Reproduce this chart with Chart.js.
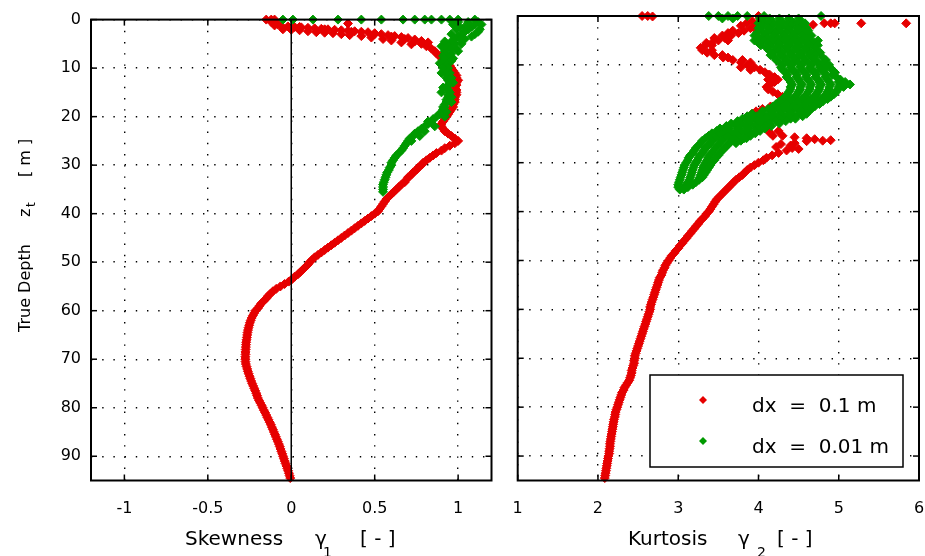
<!DOCTYPE html>
<html>
<head>
<meta charset="utf-8">
<title>Skewness and kurtosis versus true depth</title>
<script src="https://cdn.jsdelivr.net/npm/chart.js@4.4.1/dist/chart.umd.min.js"></script>
<style>
  html, body { margin: 0; padding: 0; background: #ffffff; }
  #figure { position: relative; width: 925px; height: 556px; overflow: hidden; background: #ffffff; }
  #skewChart { position: absolute; left: 0; top: 0; }
  #kurtChart { position: absolute; left: 500px; top: 0; }
</style>
</head>
<body>
<div id="figure">
  <canvas id="skewChart" width="500" height="556"></canvas>
  <canvas id="kurtChart" width="425" height="556"></canvas>
</div>
<script>
// ---------------- data ----------------
const seriesLabels = ['dx  =  0.1 m', 'dx  =  0.01 m'];
const seriesColors = ['#e60000', '#009a00'];

const depthTicks = [0, 10, 20, 30, 40, 50, 60, 70, 80, 90];
const skewTicks = [-1, -0.5, 0, 0.5, 1];
const kurtTicks = [1, 2, 3, 4, 5, 6];

// sampling depths (m) of the 0.5 m profiles
const redDepths = Array.from({ length: 190 }, (_, i) => i * 0.5);    // 0 .. 94.5
const greenDepths = Array.from({ length: 72 }, (_, i) => i * 0.5);   // 0 .. 35.5

// skewness, dx = 0.1 m
const skewRed = [
  -0.15, -0.12, -0.08, 0.05, 0.2, 0.36, 0.5, 0.6, 0.68, 0.74, 0.78, 0.81, 0.84, 0.86, 0.87, 0.89, 0.9, 0.91, 0.93, 0.95,
  0.96, 0.97, 0.98, 0.99, 0.99, 1.0, 0.99, 0.99, 0.98, 0.99, 0.99, 0.99, 0.98, 0.98, 0.98, 0.97, 0.97, 0.96, 0.95, 0.94,
  0.93, 0.92, 0.91, 0.9, 0.9, 0.91, 0.92, 0.94, 0.96, 0.98, 1.0, 0.98, 0.95, 0.92, 0.9, 0.87, 0.85, 0.83, 0.81, 0.79,
  0.78, 0.76, 0.75, 0.73, 0.72, 0.7, 0.69, 0.68, 0.66, 0.645, 0.63, 0.615, 0.6, 0.585, 0.57, 0.56, 0.55, 0.54, 0.53, 0.52,
  0.5, 0.48, 0.46, 0.44, 0.42, 0.4, 0.38, 0.36, 0.34, 0.32, 0.3, 0.28, 0.26, 0.24, 0.22, 0.2, 0.18, 0.16, 0.14, 0.125,
  0.11, 0.1, 0.085, 0.07, 0.055, 0.04, 0.02, 0.005, -0.015, -0.04, -0.065, -0.09, -0.11, -0.125, -0.14, -0.15, -0.165, -0.18, -0.19, -0.2,
  -0.215, -0.222, -0.23, -0.237, -0.243, -0.248, -0.252, -0.256, -0.259, -0.262, -0.264, -0.266, -0.268, -0.27, -0.271, -0.272, -0.273, -0.274, -0.274, -0.275,
  -0.275, -0.274, -0.272, -0.268, -0.264, -0.26, -0.255, -0.25, -0.245, -0.24, -0.234, -0.228, -0.222, -0.216, -0.21, -0.205, -0.2, -0.193, -0.186, -0.178,
  -0.171, -0.164, -0.157, -0.15, -0.143, -0.136, -0.129, -0.122, -0.116, -0.11, -0.104, -0.098, -0.092, -0.086, -0.08, -0.074, -0.069, -0.064, -0.059, -0.054,
  -0.049, -0.044, -0.039, -0.034, -0.029, -0.024, -0.019, -0.014, -0.01, -0.006
];
// extra near-surface skewness samples, dx = 0.1 m
const skewRedTopDepths = [
  0, 0, 0.8, 1.2, 1.3, 1.4, 1.5, 1.6, 1.7, 1.8, 1.9, 2.0, 2.1, 2.2, 2.3, 2.4, 2.5, 2.6, 2.8, 3.0, 3.2, 3.4, 3.6, 3.8, 4.1, 4.4, 4.7,
  2.0, 2.1, 2.2, 2.4, 2.6, 2.7, 2.8, 3.0, 3.2, 3.4, 3.7, 4.0, 4.3, 4.7, 5.1
];
const skewRedTop = [
  -0.12, -0.1, 0.34, -0.1, -0.06, -0.02, 0.02, 0.06, 0.1, 0.14, 0.18, 0.22, 0.26, 0.3, 0.34, 0.38, 0.42, 0.46, 0.5, 0.54, 0.58, 0.62, 0.66, 0.7, 0.74, 0.78, 0.82,
  -0.05, 0.0, 0.05, 0.1, 0.15, 0.2, 0.25, 0.3, 0.35, 0.42, 0.48, 0.55, 0.6, 0.66, 0.72
];

// skewness, dx = 0.01 m
const skewGreen = [
  1.1, 1.12, 1.1, 1.08, 1.06, 1.04, 1.02, 1.0, 0.98, 0.96, 0.95, 0.94, 0.93, 0.92, 0.92, 0.91, 0.92, 0.92, 0.93, 0.93,
  0.94, 0.93, 0.95, 0.94, 0.93, 0.94, 0.95, 0.94, 0.93, 0.94, 0.95, 0.94, 0.94, 0.93, 0.93, 0.92, 0.92, 0.91, 0.9, 0.89,
  0.87, 0.85, 0.84, 0.82, 0.8, 0.78, 0.76, 0.74, 0.73, 0.71, 0.7, 0.69, 0.68, 0.67, 0.66, 0.645, 0.63, 0.62, 0.61, 0.6,
  0.6, 0.59, 0.585, 0.575, 0.57, 0.565, 0.56, 0.555, 0.55, 0.55, 0.55, 0.55
];
const skewGreenSurface = [-0.05, 0.01, 0.13, 0.28, 0.42, 0.54, 0.67, 0.74, 0.8, 0.84, 0.9, 0.95, 1.0];
const skewGreenSpreadDepths = [
  0.5, 1, 1.5, 2, 2.5, 3, 3.5, 4, 4.5, 5, 5.5, 6, 7, 8, 9, 11, 13, 15, 17, 19, 21, 23, 25,
  0.5, 1, 1.5, 2, 3, 4, 5, 6, 6.5, 7.5, 8.5, 10, 12, 14, 16, 18, 20, 22, 24
];
const skewGreenSpread = [
  1.0, 0.97, 1.04, 0.99, 1.12, 0.96, 1.08, 1.04, 0.92, 1.02, 0.9, 0.99, 0.96, 0.97, 0.89, 0.9, 0.97, 0.9, 0.96, 0.93, 0.82, 0.8, 0.72,
  1.06, 1.14, 1.01, 1.13, 1.1, 1.01, 0.98, 0.96, 1.0, 0.95, 0.96, 0.91, 0.96, 0.91, 0.96, 0.91, 0.92, 0.86, 0.77
];

// kurtosis, dx = 0.1 m
const kurtRed = [
  4.0, 4.05, 4.05, 4.02, 3.96, 3.9, 3.82, 3.75, 3.66, 3.58, 3.5, 3.42, 3.34, 3.28, 3.3, 3.36, 3.45, 3.56, 3.68, 3.78,
  3.86, 3.95, 4.02, 4.08, 4.14, 4.2, 4.24, 4.2, 4.15, 4.1, 4.12, 4.18, 4.24, 4.3, 4.35, 4.3, 4.25, 4.15, 4.05, 3.97,
  3.92, 3.98, 4.05, 4.1, 4.12, 4.1, 4.1, 4.12, 4.15, 4.3, 4.6, 4.8, 4.45, 4.4, 4.42, 4.35, 4.25, 4.17, 4.1, 4.06,
  4.0, 3.95, 3.9, 3.86, 3.83, 3.8, 3.76, 3.72, 3.69, 3.66, 3.63, 3.6, 3.57, 3.54, 3.51, 3.48, 3.46, 3.44, 3.42, 3.4,
  3.38, 3.35, 3.33, 3.3, 3.27, 3.25, 3.22, 3.2, 3.17, 3.15, 3.12, 3.1, 3.07, 3.05, 3.02, 3.0, 2.97, 2.95, 2.92, 2.9,
  2.88, 2.86, 2.84, 2.83, 2.81, 2.8, 2.79, 2.77, 2.76, 2.75, 2.74, 2.73, 2.72, 2.71, 2.7, 2.69, 2.68, 2.67, 2.66, 2.65,
  2.65, 2.64, 2.63, 2.62, 2.61, 2.6, 2.59, 2.58, 2.57, 2.56, 2.55, 2.54, 2.53, 2.52, 2.51, 2.5, 2.49, 2.48, 2.47, 2.46,
  2.46, 2.45, 2.45, 2.44, 2.43, 2.42, 2.42, 2.41, 2.4, 2.39, 2.37, 2.35, 2.33, 2.32, 2.3, 2.29, 2.28, 2.27, 2.26, 2.25,
  2.24, 2.23, 2.22, 2.215, 2.21, 2.2, 2.195, 2.19, 2.185, 2.18, 2.175, 2.17, 2.165, 2.16, 2.155, 2.15, 2.15, 2.145, 2.14, 2.14,
  2.13, 2.125, 2.12, 2.115, 2.11, 2.105, 2.1, 2.095, 2.09, 2.085
];
const kurtRedExtraDepths = [0, 0, 0.1, 1.5, 1.5, 1.5, 1.5, 1.5, 1.8, 1, 1.5, 2, 2.5, 3, 3.5, 4, 4.5, 5, 5.5, 6, 7, 8, 8.5, 9, 9.5, 10.5, 11, 12, 13, 23.5, 24.5, 24.8, 25.2, 25.4, 25.6, 26.2, 26.8, 27.2];
const kurtRedExtra = [2.55, 2.62, 2.68, 4.82, 4.9, 4.95, 5.28, 5.84, 4.68, 3.92, 3.85, 3.78, 3.95, 3.68, 3.62, 3.55, 3.45, 3.62, 3.35, 3.42, 3.42, 3.55, 3.62, 3.8, 3.9, 3.78, 3.9, 4.12, 4.12, 4.25, 4.18, 4.45, 4.7, 4.9, 4.6, 4.28, 4.22, 4.5];

// kurtosis, dx = 0.01 m: samples found at each 0.5 m depth
const kurtGreen = [
  [3.38, 3.5, 3.62, 3.74, 3.86, 4.07, 4.78],
  [3.55, 3.68, 4.02, 4.14, 4.26, 4.38, 4.5],
  [4.05, 4.17, 4.29, 4.41, 4.53],
  [4.0, 4.12, 4.24, 4.36, 4.48, 4.58],
  [4.05, 4.17, 4.29, 4.41, 4.53],
  [4.0, 4.12, 4.24, 4.36, 4.48, 4.6],
  [4.04, 4.16, 4.28, 4.4, 4.52, 4.62],
  [3.98, 4.1, 4.22, 4.34, 4.46, 4.58],
  [3.95, 4.07, 4.19, 4.31, 4.43, 4.55, 4.66],
  [4.0, 4.12, 4.24, 4.36, 4.48, 4.6],
  [3.95, 4.06, 4.18, 4.3, 4.42, 4.54, 4.66, 4.74],
  [4.0, 4.12, 4.24, 4.36, 4.48, 4.6, 4.7],
  [4.03, 4.15, 4.27, 4.39, 4.51, 4.63, 4.74],
  [4.1, 4.22, 4.34, 4.46, 4.58, 4.7],
  [4.13, 4.25, 4.37, 4.49, 4.61, 4.73],
  [4.18, 4.3, 4.42, 4.54, 4.66, 4.77],
  [4.15, 4.27, 4.39, 4.51, 4.63, 4.72],
  [4.2, 4.32, 4.44, 4.56, 4.68, 4.8],
  [4.22, 4.34, 4.46, 4.58, 4.7, 4.84],
  [4.26, 4.38, 4.5, 4.62, 4.74, 4.82],
  [4.3, 4.42, 4.54, 4.66, 4.78, 4.88],
  [4.28, 4.4, 4.52, 4.64, 4.76, 4.85],
  [4.3, 4.42, 4.54, 4.66, 4.78, 4.92],
  [4.34, 4.46, 4.58, 4.7, 4.82, 4.95],
  [4.36, 4.48, 4.6, 4.72, 4.84, 4.92],
  [4.35, 4.47, 4.59, 4.71, 4.83, 4.97],
  [4.38, 4.5, 4.62, 4.74, 4.86, 5.02],
  [4.4, 4.52, 4.64, 4.76, 4.88, 5.0, 5.08],
  [4.42, 4.54, 4.66, 4.78, 4.9, 5.02, 5.14],
  [4.4, 4.52, 4.64, 4.76, 4.88, 5.0, 5.06],
  [4.4, 4.52, 4.64, 4.76, 4.88, 4.99],
  [4.38, 4.5, 4.62, 4.74, 4.86, 4.97],
  [4.36, 4.48, 4.6, 4.72, 4.84, 4.94],
  [4.34, 4.46, 4.58, 4.7, 4.82, 4.9],
  [4.3, 4.42, 4.54, 4.66, 4.78, 4.86],
  [4.26, 4.38, 4.5, 4.62, 4.74, 4.8],
  [4.22, 4.34, 4.46, 4.58, 4.7, 4.76],
  [4.18, 4.3, 4.42, 4.54, 4.66, 4.7],
  [4.12, 4.24, 4.36, 4.48, 4.6, 4.66],
  [4.05, 4.17, 4.29, 4.41, 4.53, 4.62],
  [3.92, 4.04, 4.16, 4.28, 4.4, 4.52, 4.6],
  [3.86, 3.98, 4.1, 4.22, 4.34, 4.46, 4.55],
  [3.8, 3.92, 4.04, 4.16, 4.28, 4.4, 4.46],
  [3.74, 3.86, 3.98, 4.1, 4.22, 4.34],
  [3.66, 3.78, 3.9, 4.02, 4.14, 4.26],
  [3.6, 3.72, 3.84, 3.96, 4.08, 4.16],
  [3.52, 3.64, 3.76, 3.88, 4.0, 4.08],
  [3.48, 3.6, 3.72, 3.84, 3.96, 4.02],
  [3.42, 3.54, 3.66, 3.78, 3.9, 3.96],
  [3.38, 3.5, 3.62, 3.74, 3.86, 3.9],
  [3.34, 3.46, 3.58, 3.7, 3.82, 3.85],
  [3.3, 3.42, 3.54, 3.66, 3.78],
  [3.28, 3.4, 3.52, 3.64, 3.72],
  [3.25, 3.37, 3.49, 3.61],
  [3.22, 3.34, 3.46, 3.58],
  [3.2, 3.32, 3.44, 3.55],
  [3.18, 3.3, 3.42, 3.52],
  [3.15, 3.27, 3.39, 3.5],
  [3.13, 3.25, 3.37, 3.47],
  [3.12, 3.24, 3.36, 3.45],
  [3.1, 3.22, 3.34, 3.42],
  [3.08, 3.2, 3.32, 3.4],
  [3.07, 3.19, 3.31, 3.38],
  [3.06, 3.18, 3.3, 3.36],
  [3.05, 3.17, 3.29, 3.34],
  [3.04, 3.16, 3.28, 3.32],
  [3.03, 3.15, 3.27, 3.3],
  [3.02, 3.14, 3.26],
  [3.01, 3.12, 3.22],
  [3.0, 3.1, 3.18],
  [3.0, 3.08, 3.12],
  [3.02, 3.07]
];

// ---------------- helpers ----------------
const FONT = "'DejaVu Sans', 'Liberation Sans', sans-serif";
Chart.defaults.font.family = FONT;
Chart.defaults.font.size = 16;
Chart.defaults.color = '#000';

function toPoints(depths, values) {
  return values.map((v, i) => ({ x: v, y: depths[i] }));
}
function rowsToPoints(depths, rows) {
  return rows.flatMap((row, i) => row.map(v => ({ x: v, y: depths[i] })));
}
function markerSet(label, color, data, order) {
  return {
    label, data, order,
    showLine: false,
    clip: false,
    pointStyle: 'rectRot',
    pointRadius: 4.5,
    pointHoverRadius: 4.5,
    pointBorderWidth: 1,
    pointBackgroundColor: color,
    pointBorderColor: color
  };
}

const dottedBorder = { display: false, dash: [1.4, 9.8] };

function depthAxis(showLabels, axisWidth) {
  return {
    type: 'linear', position: 'left', reverse: true, min: 0, max: 95,
    afterBuildTicks: s => { s.ticks = depthTicks.map(v => ({ value: v })); },
    afterFit: s => { s.width = axisWidth; },
    ticks: { display: showLabels, padding: 10, autoSkip: false, color: '#000', font: { size: 16 } },
    grid: { color: '#000', lineWidth: 1.4, drawTicks: false },
    border: dottedBorder
  };
}
function valueAxis(min, max, tickValues, axisHeight) {
  return {
    type: 'linear', position: 'bottom', min, max,
    afterBuildTicks: s => { s.ticks = tickValues.map(v => ({ value: v })); },
    afterFit: s => { s.height = axisHeight; },
    // labels sit below an invisible tick gap so the end labels need no side padding
    ticks: { padding: 0, autoSkip: false, maxRotation: 0, color: '#000', font: { size: 16 },
             callback: v => String(v) },
    grid: { color: '#000', lineWidth: 1.4, drawTicks: true, tickLength: 19, tickColor: 'rgba(0,0,0,0)' },
    border: dottedBorder
  };
}

// axes box, inward tick marks and optional zero line
const framePlugin = {
  id: 'frame',
  afterDatasetsDraw(chart, args, opts) {
    const { ctx, chartArea: a, scales } = chart;
    ctx.save();
    ctx.strokeStyle = '#000';
    const seg = (x1, y1, x2, y2) => { ctx.beginPath(); ctx.moveTo(x1, y1); ctx.lineTo(x2, y2); ctx.stroke(); };
    if (opts.zeroLine) {
      ctx.lineWidth = 1.5;
      const x0 = scales.x.getPixelForValue(0);
      seg(x0, a.top, x0, a.bottom);
    }
    ctx.lineWidth = 1.5;
    const len = 6;
    scales.x.ticks.forEach(t => {
      const x = scales.x.getPixelForValue(t.value);
      seg(x, a.bottom, x, a.bottom - len);
      seg(x, a.top, x, a.top + len);
    });
    scales.y.ticks.forEach(t => {
      const y = scales.y.getPixelForValue(t.value);
      seg(a.left, y, a.left + len, y);
      seg(a.right, y, a.right - len, y);
    });
    ctx.lineWidth = 2;
    ctx.strokeRect(a.left, a.top, a.right - a.left, a.bottom - a.top);
    ctx.restore();
  }
};

// axis titles with Greek symbols and subscripts
const titlePlugin = {
  id: 'axisText',
  afterDraw(chart, args, opts) {
    const ctx = chart.ctx;
    ctx.save();
    ctx.fillStyle = '#000';
    ctx.textBaseline = 'alphabetic';
    ctx.textAlign = 'left';
    (opts.items || []).forEach(it => {
      ctx.save();
      ctx.font = `${it.size}px ${FONT}`;
      ctx.translate(it.x, it.y);
      if (it.vertical) ctx.rotate(-Math.PI / 2);
      ctx.fillText(it.text, 0, 0);
      ctx.restore();
    });
    ctx.restore();
  }
};

// boxed legend inside the kurtosis panel
const legendBoxPlugin = {
  id: 'legendBox',
  afterDraw(chart, args, opts) {
    if (!opts.box) return;
    const ctx = chart.ctx;
    const b = opts.box;
    ctx.save();
    ctx.fillStyle = '#fff';
    ctx.fillRect(b.left, b.top, b.width, b.height);
    ctx.strokeStyle = '#000';
    ctx.lineWidth = 1.5;
    ctx.strokeRect(b.left, b.top, b.width, b.height);
    chart.data.datasets.slice().sort((p, q) => q.order - p.order).forEach((ds, i) => {
      const my = b.top + 25 + i * 41;
      const mx = b.left + 53;
      const r = 4;
      ctx.fillStyle = ds.pointBackgroundColor;
      ctx.beginPath();
      ctx.moveTo(mx - r, my); ctx.lineTo(mx, my - r); ctx.lineTo(mx + r, my); ctx.lineTo(mx, my + r);
      ctx.closePath();
      ctx.fill();
      ctx.fillStyle = '#000';
      ctx.font = `20px ${FONT}`;
      ctx.textBaseline = 'middle';
      ctx.fillText(ds.label, b.left + 102, my + 7);
    });
    ctx.restore();
  }
};

function baseOptions(padRight, yWidth, showYLabels, xMin, xMax, xTicks) {
  return {
    responsive: false,
    animation: false,
    events: [],
    layout: { padding: { top: 16, right: padRight, bottom: 0, left: 0 } },
    scales: {
      x: valueAxis(xMin, xMax, xTicks, 75.5),
      y: depthAxis(showYLabels, yWidth)
    },
    plugins: { legend: { display: false }, tooltip: { enabled: false } }
  };
}

// ---------------- skewness panel ----------------
const skewOptions = baseOptions(8.5, 91, true, -1.2, 1.2, skewTicks);
skewOptions.plugins.frame = { zeroLine: true };
skewOptions.plugins.axisText = {
  items: [
    { text: 'Skewness', x: 185, y: 545, size: 20 },
    { text: 'γ', x: 315, y: 545, size: 20 },
    { text: '1', x: 323, y: 557, size: 14 },
    { text: '[ - ]', x: 360, y: 545, size: 20 },
    { text: 'True Depth', x: 30, y: 332, size: 16, vertical: true },
    { text: 'z', x: 30, y: 217, size: 16, vertical: true },
    { text: 't', x: 35, y: 207, size: 12, vertical: true },
    { text: '[ m ]', x: 30, y: 177, size: 16, vertical: true }
  ]
};

new Chart(document.getElementById('skewChart'), {
  type: 'scatter',
  data: {
    datasets: [
      markerSet(seriesLabels[0], seriesColors[0],
        toPoints(redDepths, skewRed).concat(toPoints(skewRedTopDepths, skewRedTop)), 1),
      markerSet(seriesLabels[1], seriesColors[1],
        toPoints(greenDepths, skewGreen)
          .concat(skewGreenSurface.map(v => ({ x: v, y: 0 })))
          .concat(toPoints(skewGreenSpreadDepths, skewGreenSpread)), 0)
    ]
  },
  options: skewOptions,
  plugins: [framePlugin, titlePlugin]
});

// ---------------- kurtosis panel ----------------
const kurtOptions = baseOptions(6, 17.7, false, 1, 6, kurtTicks);
kurtOptions.plugins.frame = { zeroLine: false };
kurtOptions.plugins.axisText = {
  items: [
    { text: 'Kurtosis', x: 128, y: 545, size: 20 },
    { text: 'γ', x: 238, y: 545, size: 20 },
    { text: '2', x: 257, y: 557, size: 14 },
    { text: '[ - ]', x: 277, y: 545, size: 20 }
  ]
};
kurtOptions.plugins.legendBox = { box: { left: 150, top: 375, width: 253, height: 92 } };

new Chart(document.getElementById('kurtChart'), {
  type: 'scatter',
  data: {
    datasets: [
      markerSet(seriesLabels[0], seriesColors[0],
        toPoints(redDepths, kurtRed).concat(toPoints(kurtRedExtraDepths, kurtRedExtra)), 1),
      markerSet(seriesLabels[1], seriesColors[1], rowsToPoints(greenDepths, kurtGreen), 0)
    ]
  },
  options: kurtOptions,
  plugins: [framePlugin, titlePlugin, legendBoxPlugin]
});
</script>
</body>
</html>
